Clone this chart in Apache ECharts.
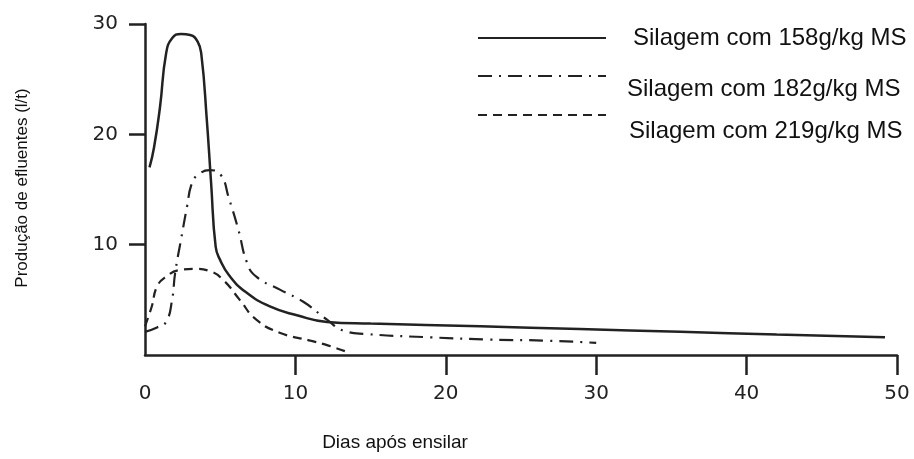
<!DOCTYPE html>
<html>
<head>
<meta charset="utf-8">
<script src="https://cdn.jsdelivr.net/npm/echarts@6/dist/echarts.min.js"></script>
<style>html,body{margin:0;padding:0;background:#fff}#c{width:914px;height:459px}</style>
</head>
<body>
<div id="c"></div>
<script>
// ---- Data ----
var seriesNames = ['Silagem com 158g/kg MS', 'Silagem com 182g/kg MS', 'Silagem com 219g/kg MS'];

var days158 = [0.3, 0.6, 1.0, 1.4, 1.8, 2.4, 3.0, 3.5, 3.75, 4.1, 4.4, 4.7, 5.0, 5.6, 6.7, 8.3, 10.1, 12.1, 15, 22.3, 28.9, 35.6, 42, 49.2];
var vals158 = [17.0, 18.8, 22.5, 27.3, 28.7, 29.1, 29.0, 28.4, 27.2, 21.5, 15.5, 9.8, 8.6, 7.2, 5.7, 4.4, 3.6, 3.0, 2.85, 2.6, 2.35, 2.1, 1.85, 1.6];

var days182 = [0, 0.8, 1.4, 1.8, 2.0, 2.4, 2.8, 3.1, 3.5, 4.3, 5.0, 5.6, 6.2, 6.8, 7.4, 9.0, 10.5, 12.1, 13.2, 14.7, 19, 22.9, 26.7, 30];
var vals182 = [2.1, 2.5, 3.0, 5.0, 7.4, 10.5, 13.5, 15.5, 16.3, 16.75, 16.4, 14.1, 11.4, 8.3, 7.1, 5.9, 4.85, 3.2, 2.2, 1.9, 1.6, 1.4, 1.3, 1.1];

var days219 = [0, 0.45, 0.8, 1.4, 2.3, 3.4, 4.3, 5.2, 6.3, 7.4, 9.0, 11.0, 12.2, 13.4];
var vals219 = [2.6, 4.4, 6.2, 7.1, 7.7, 7.8, 7.6, 6.8, 5.0, 3.2, 2.0, 1.3, 0.85, 0.3];

var xTicks = [10, 20, 30, 40, 50];
var xLabels = [0, 10, 20, 30, 40, 50];
var yTicks = [10, 20, 30];

var xTitle = 'Dias após ensilar';
var yTitle = 'Produção de efluentes (l/t)';

function zip(xs, ys) { return xs.map(function (x, i) { return [x, ys[i]]; }); }

var ink = '#222';
var chart = echarts.init(document.getElementById('c'), null, { renderer: 'canvas' });

function legendFor(name, top, lineH, padLeft, twoLine) {
  return {
    data: [name], left: 477, top: top, padding: 0,
    itemWidth: 128, itemHeight: 14, selectedMode: false,
    itemStyle: { opacity: 0 },
    formatter: function (n) { return twoLine ? '\n' + n : n; },
    textStyle: { fontFamily: 'Liberation Sans', fontSize: 24, color: '#111', lineHeight: lineH, padding: [0, 0, 0, padLeft] }
  };
}

chart.setOption({
  animation: false,
  backgroundColor: '#fff',
  grid: { left: 145, right: 17, top: 24, bottom: 104, containLabel: false },
  legend: [
    legendFor(seriesNames[0], 26, 24, 22, false),
    legendFor(seriesNames[1], 50, 26, 16, true),
    legendFor(seriesNames[2], 83, 32, 18, true)
  ],
  xAxis: {
    type: 'value', min: 0, max: 50, interval: 10,
    axisLine: { show: true, lineStyle: { color: ink, width: 2.5 } },
    axisTick: { show: true, length: 20, inside: false, customValues: xTicks, lineStyle: { color: ink, width: 2.5 } },
    axisLabel: { customValues: xLabels, margin: 29, fontFamily: 'DejaVu Sans', fontSize: 20, color: ink },
    splitLine: { show: false }
  },
  yAxis: {
    type: 'value', min: 0, max: 30, interval: 10,
    axisLine: { show: true, lineStyle: { color: ink, width: 2.5 } },
    axisTick: { show: true, length: 16, inside: false, customValues: yTicks, lineStyle: { color: ink, width: 2.5 } },
    axisLabel: { customValues: yTicks, margin: 27, fontFamily: 'DejaVu Sans', fontSize: 20, color: ink },
    splitLine: { show: false }
  },
  graphic: [
    { type: 'text', x: 395, y: 443, style: { text: xTitle, font: '19px "Liberation Sans"', fill: '#111', align: 'center', verticalAlign: 'middle' } },
    { type: 'text', rotation: Math.PI / 2, x: 22, y: 188, style: { text: yTitle, font: '17px "Liberation Sans"', fill: '#111', align: 'center', verticalAlign: 'middle' } }
  ],
  series: [
    { name: seriesNames[0], type: 'line', data: zip(days158, vals158), symbol: 'none', smooth: 0.5,
      lineStyle: { color: ink, width: 2.5, type: 'solid' }, itemStyle: { color: ink } },
    { name: seriesNames[1], type: 'line', data: zip(days182, vals182), symbol: 'none', smooth: 0.5,
      lineStyle: { color: ink, width: 2.2, type: [14, 7, 2, 7] }, itemStyle: { color: ink } },
    { name: seriesNames[2], type: 'line', data: zip(days219, vals219), symbol: 'none', smooth: 0.5,
      lineStyle: { color: ink, width: 2.2, type: [9, 6] }, itemStyle: { color: ink } }
  ]
});
</script>
</body>
</html>
